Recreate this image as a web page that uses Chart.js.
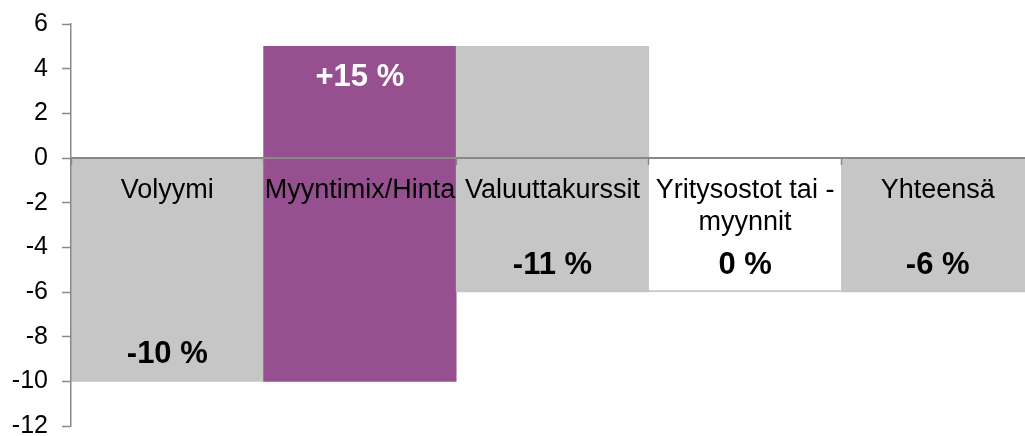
<!DOCTYPE html>
<html>
<head>
<meta charset="utf-8">
<script src="https://cdn.jsdelivr.net/npm/chart.js@4/dist/chart.umd.min.js"></script>
<style>
  html, body { margin: 0; padding: 0; background: #fff; }
  .wrap { width: 1025px; height: 436px; overflow: hidden; }
  canvas { display: block; margin-top: -5px; }
</style>
</head>
<body>
<div class="wrap"><canvas id="chart" width="1040" height="460"></canvas></div>
<script>
const categories = ['Volyymi', 'Myyntimix/Hinta', 'Valuuttakurssit', ['Yritysostot tai -', 'myynnit'], 'Yhteensä'];
const barStarts = [0, -10, 5, 0, 0];
const barEnds = [-10, 5, -6, -6, -6];
const changeLabels = ['-10 %', '+15 %', '-11 %', '0 %', '-6 %'];
const yTicks = [6, 4, 2, 0, -2, -4, -6, -8, -10, -12];

const barColors = ['#c6c6c6', '#97508f', '#c6c6c6', '#ffffff', '#c6c6c6'];
const labelColors = ['#000', '#fff', '#000', '#000', '#000'];
const axisColor = '#898989';
const fontFamily = '"Liberation Sans", Arial, sans-serif';

// bold change labels near the end of each bar
const changeLabelPlugin = {
  id: 'changeLabels',
  afterDatasetsDraw(chart) {
    const { ctx } = chart;
    const yScale = chart.scales.y;
    const meta = chart.getDatasetMeta(0);
    ctx.save();
    ctx.font = `bold 31px ${fontFamily}`;
    ctx.textAlign = 'center';
    ctx.textBaseline = 'middle';
    meta.data.forEach((bar, i) => {
      const endPx = yScale.getPixelForValue(barEnds[i]);
      const goingDown = barEnds[i] < barStarts[i];
      const y = goingDown ? endPx - 27 : endPx + 31;
      ctx.fillStyle = labelColors[i];
      ctx.fillText(changeLabels[i], bar.x, y);
    });
    ctx.restore();
  }
};

new Chart(document.getElementById('chart'), {
  type: 'bar',
  data: {
    labels: categories,
    datasets: [{
      data: barStarts.map((s, i) => [s, barEnds[i]]),
      backgroundColor: barColors,
      borderColor: '#c8c8c8',
      borderSkipped: false,
      borderWidth: ctx => barColors[ctx.dataIndex] === '#ffffff' ? { top: 0, left: 0, right: 0, bottom: 2 } : 0,
      barPercentage: 1,
      categoryPercentage: 1
    }]
  },
  options: {
    responsive: false,
    animation: false,
    events: [],
    layout: { padding: { top: 0, right: 6, bottom: 0, left: 0 } },
    plugins: {
      legend: { display: false },
      tooltip: { enabled: false }
    },
    scales: {
      x: {
        position: { y: 0 },
        afterFit: scale => { scale.height = 0; },
        grid: {
          z: 1,
          offset: true,
          drawOnChartArea: false,
          drawTicks: true,
          tickLength: 6,
          tickWidth: 1.5,
          tickColor: axisColor
        },
        border: { display: true, color: axisColor, width: 2, z: 1 },
        ticks: {
          z: 1,
          color: '#000',
          font: { family: fontFamily, size: 27, lineHeight: 1.2 },
          padding: 10,
          maxRotation: 0,
          autoSkip: false
        }
      },
      y: {
        min: -12,
        max: 6,
        afterFit: scale => { scale.width = 71; },
        afterBuildTicks: scale => { scale.ticks = yTicks.map(v => ({ value: v })); },
        grid: {
          z: 1,
          drawOnChartArea: false,
          drawTicks: true,
          tickLength: 9,
          tickWidth: 1.5,
          tickColor: axisColor
        },
        border: { display: true, color: axisColor, width: 1.5, z: 1 },
        ticks: {
          color: '#000',
          font: { family: fontFamily, size: 25 },
          padding: 14
        }
      }
    }
  },
  plugins: [changeLabelPlugin]
});
</script>
</body>
</html>
